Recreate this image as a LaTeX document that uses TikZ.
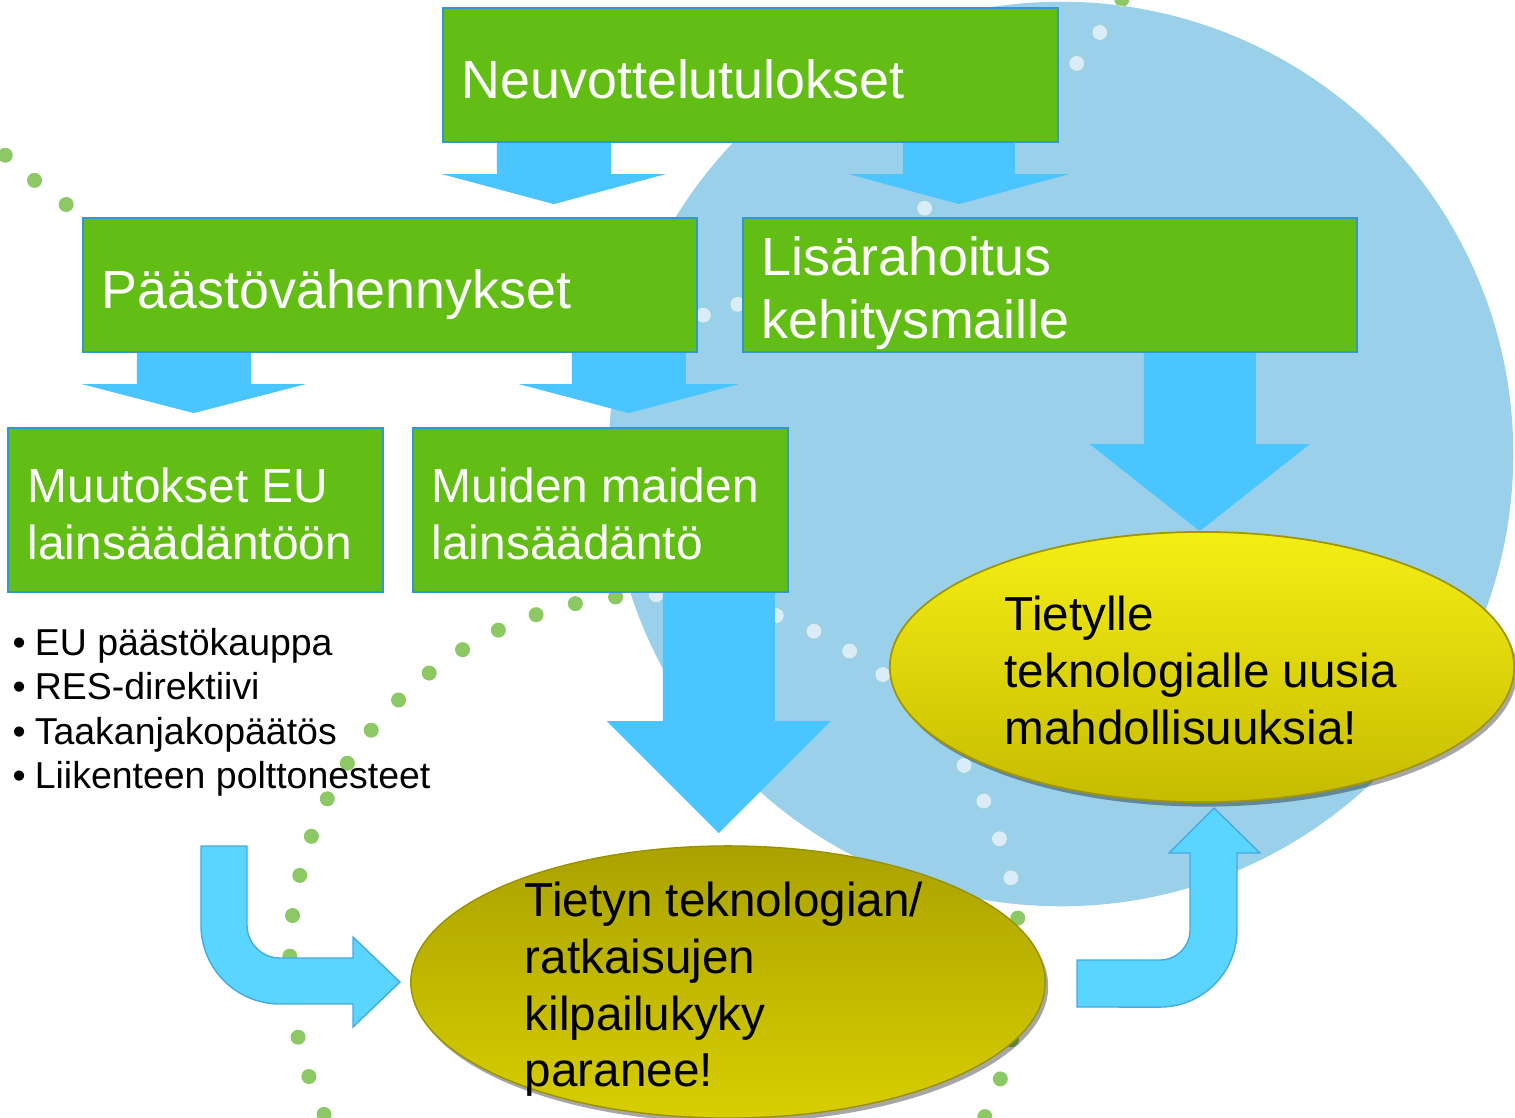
\documentclass[tikz,border=0pt]{standalone}
\usepackage{fontspec}
\setmainfont{Liberation Sans}
\usetikzlibrary{shadows,calc,shapes.geometric}
\definecolor{boxgreen}{RGB}{98,190,20}
\definecolor{boxborder}{RGB}{50,150,210}
\definecolor{arrowblue}{RGB}{75,197,255}
\definecolor{curveblue}{RGB}{90,213,255}
\definecolor{curveedge}{RGB}{70,170,225}
\definecolor{bgblue}{RGB}{154,208,234}
\definecolor{dotgreen}{RGB}{140,200,100}
\definecolor{dotwhite}{RGB}{218,236,247}
\definecolor{eonetop}{RGB}{245,238,20}
\definecolor{eonebot}{RGB}{198,188,0}
\definecolor{eoneedge}{RGB}{160,150,0}
\definecolor{etwotop}{RGB}{170,162,0}
\definecolor{etwobot}{RGB}{216,206,0}
\newcommand\tstrut{\rule{0pt}{1em}}
\newcommand\bul{\makebox[6.3pt][l]{•}}
\newcommand\drawdots[1]{%
  \foreach \k in {0,...,36}{%
    \pgfmathsetmacro\ang{205-6.4*\k}%
    \fill[#1] ([shift={(655,960)}]\ang:3.65cm) circle[radius=0.075cm];}%
  \foreach \ang in {-132.0,-129.0,-125.9,-73.8,-71.0,-54.6,-38.2,-35.2,-32.1}{%
    \fill[#1] ([shift={(498,-392)}]\ang:7.36cm) circle[radius=0.075cm];}%
}
\tikzset{
  box/.style={rectangle, draw=boxborder, line width=0.6pt, fill=boxgreen, inner sep=0pt},
  txt/.style={anchor=north west, inner sep=0pt, align=left},
  bigfont/.style={font=\fontsize{15.3pt}{17.9pt}\selectfont},
  midfont/.style={font=\fontsize{13.6pt}{16.3pt}\selectfont},
  ellfont/.style={font=\fontsize{13.55pt}{16.16pt}\selectfont},
  listfont/.style={font=\fontsize{10.65pt}{12.67pt}\selectfont},
  ellshadow/.style={drop shadow={shadow xshift=0.03cm, shadow yshift=-0.045cm, fill=black, opacity=0.35}},
  eone/.style={ellipse, inner sep=0pt, minimum width=6.24cm, minimum height=2.70cm,
    top color=eonetop, bottom color=eonebot, draw=eoneedge, line width=0.5pt, ellshadow},
  etwo/.style={ellipse, inner sep=0pt, minimum width=6.34cm, minimum height=2.72cm,
    top color=etwotop, bottom color=etwobot, draw=etwotop!90!black, line width=0.4pt, ellshadow},
  curvearrow/.style={fill=curveblue, draw=curveedge, line width=0.4pt},
  pics/downarrow/.style n args={4}{code={%
    \fill[arrowblue] (-#1,0) -- (#1,0) -- (#1,#2) -- (#3,#2) -- (0,#4) -- (-#3,#2) -- (-#1,#2) -- cycle;}}
}
\begin{document}
\begin{tikzpicture}[x=0.01cm,y=-0.01cm]
\useasboundingbox (0,0) rectangle (1515,1117);
\clip (0,0) rectangle (1515,1117);
\fill[white] (0,0) rectangle (1515,1117);

% background circle and dotted arcs
\fill[bgblue] (1061,454) circle[radius=4.52cm];
\drawdots{dotgreen}
\begin{scope}
  \clip (1061,454) circle[radius=4.52cm];
  \drawdots{dotwhite}
\end{scope}

% boxes
\node[box, minimum width=6.15cm, minimum height=1.34cm] (b1) at (750.5,75) {};
\node[box, minimum width=6.14cm, minimum height=1.34cm] (b2) at (390,285) {};
\node[box, minimum width=6.14cm, minimum height=1.34cm] (b3) at (1050,285) {};
\node[box, minimum width=3.75cm, minimum height=1.64cm] (b4) at (195.5,510) {};
\node[box, minimum width=3.75cm, minimum height=1.64cm] (b5) at (600.5,510) {};

\node[txt, bigfont, text=white] (t1) at (461,44) {\tstrut Neuvottelutulokset};
\node[txt, bigfont, text=white] (t2) at (101,254) {\tstrut Päästövähennykset};
\node[txt, bigfont, text=white] (t3) at (761,221) {\tstrut Lisärahoitus\\kehitysmaille};
\node[txt, midfont, text=white] (t4) at (27,454) {\tstrut Muutokset EU\\lainsäädäntöön};
\node[txt, midfont, text=white] (t5) at (431,454) {\tstrut Muiden maiden\\lainsäädäntö};

% straight block arrows
\pic at ($(b1.south west)+(112,0)$) {downarrow={57}{31}{112}{61}};
\pic at ($(b1.south west)+(517,0)$) {downarrow={56}{31}{110}{61}};
\pic at ($(b2.south west)+(112,0)$) {downarrow={57}{31}{112}{60}};
\pic at ($(b2.south west)+(547,0)$) {downarrow={57}{31}{110}{60}};
\pic at ($(b3.south west)+(458,0)$) {downarrow={56}{91}{110}{178}};
\pic at ($(b5.south west)+(307,0)$) {downarrow={56}{128}{112}{240}};

% curved arrows
\draw[curvearrow] (201,846) -- (247,846) -- (247,925)
  arc[start angle=180, end angle=270, radius=0.33cm] -- (353,958) -- (353,937)
  -- (400,982) -- (353,1027) -- (353,1004) -- (280,1004)
  arc[start angle=270, end angle=180, radius=0.79cm] -- cycle;
\draw[curvearrow] (1077,960) -- (1160,960)
  arc[start angle=-90, end angle=0, radius=0.30cm] -- (1190,853) -- (1169,853)
  -- (1214,808) -- (1260,853) -- (1237,853) -- (1237,930)
  arc[start angle=0, end angle=-90, radius=0.77cm] -- (1077,1007) -- cycle;

% ellipses
\node[eone] (e1) at (1202,667) {};
\node[etwo] (e2) at (728,982) {};
\node[txt, ellfont] (te1) at (1004,582) {\tstrut Tietylle\\teknologialle uusia\\mahdollisuuksia!};
\node[txt, ellfont] (te2) at (524,868) {\tstrut Tietyn teknologian/\\ratkaisujen\\kilpailukyky\\paranee!};

% bullet list
\node[txt, listfont] (list) at (12,617) {\tstrut\bul EU päästökauppa\\\bul RES-direktiivi\\\bul Taakanjakopäätös\\\bul Liikenteen polttonesteet};
\end{tikzpicture}
\end{document}
